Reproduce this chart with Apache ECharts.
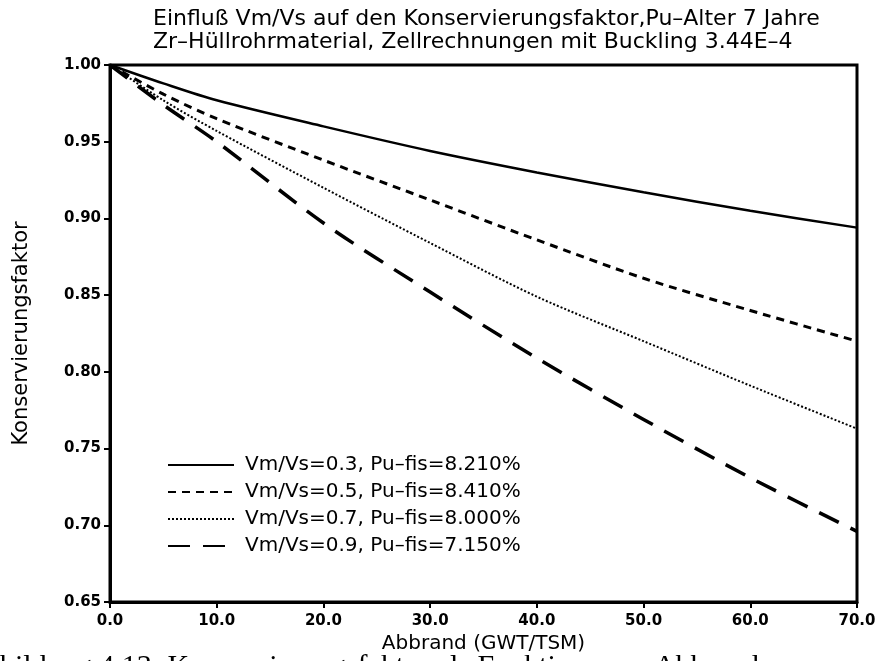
<!DOCTYPE html>
<html>
<head>
<meta charset="utf-8">
<script src="https://cdn.jsdelivr.net/npm/echarts@6/dist/echarts.min.js"></script>
<style>html,body{margin:0;padding:0;background:#fff;}#c{width:884px;height:661px;}</style>
</head>
<body>
<div id="c"></div>
<script>
const burnup = [0, 5, 10, 20, 30, 40, 50, 60, 70];
const vmvs03 = [1.000, 0.988, 0.977, 0.960, 0.944, 0.930, 0.917, 0.905, 0.894];
const vmvs05 = [1.000, 0.981, 0.965, 0.938, 0.912, 0.886, 0.861, 0.840, 0.820];
const vmvs07 = [1.000, 0.977, 0.957, 0.920, 0.884, 0.849, 0.820, 0.791, 0.763];
const vmvs09 = [1.000, 0.974, 0.950, 0.897, 0.852, 0.809, 0.769, 0.731, 0.696];
const seriesNames = [
  'Vm/Vs=0.3, Pu–fis=8.210%',
  'Vm/Vs=0.5, Pu–fis=8.410%',
  'Vm/Vs=0.7, Pu–fis=8.000%',
  'Vm/Vs=0.9, Pu–fis=7.150%'
];
const titleLines = [
  'Einfluß Vm/Vs auf den Konservierungsfaktor,Pu–Alter 7 Jahre',
  'Zr–Hüllrohrmaterial, Zellrechnungen mit Buckling 3.44E–4'
];
const xName = 'Abbrand (GWT/TSM)';
const yName = 'Konservierungsfaktor';
const caption = 'bildung 4.13: Konservierungsfaktor als Funktion vom Abbrand';

const allValues = [vmvs03, vmvs05, vmvs07, vmvs09];
const styles = [
  {width: 2.5, type: 'solid'},
  {width: 3, type: [8, 6]},
  {width: 2, type: [2, 2]},
  {width: 3.5, type: [22, 13]}
];
const font = '"DejaVu Sans", sans-serif';
const chart = echarts.init(document.getElementById('c'), null, {renderer: 'canvas'});
chart.setOption({
  backgroundColor: '#fff',
  animation: false,
  title: {
    text: titleLines.join('\n'),
    left: 148, top: 3,
    textStyle: {fontFamily: font, fontSize: 22, fontWeight: 'normal', color: '#000', lineHeight: 23}
  },
  grid: {left: 110, right: 27, top: 65, bottom: 59, outerBoundsMode: 'none', containLabel: false},
  legend: {
    orient: 'vertical', left: 162, top: 450,
    itemWidth: 66, itemHeight: 20, itemGap: 7,
    itemStyle: {opacity: 0},
    textStyle: {fontFamily: font, fontSize: 20, color: '#000', padding: [0, 0, 0, 6]},
    data: seriesNames
  },
  xAxis: {
    type: 'value', min: 0, max: 70, interval: 10,
    name: xName, nameLocation: 'middle', nameGap: 30,
    nameTextStyle: {fontFamily: font, fontSize: 20, color: '#000'},
    axisLine: {show: true, lineStyle: {color: '#000', width: 3}},
    axisTick: {show: true, inside: false, length: 6, lineStyle: {color: '#000', width: 2}},
    axisLabel: {fontFamily: font, fontSize: 15, fontWeight: 'bold', color: '#000', margin: 12,
      formatter: v => v.toFixed(1)},
    splitLine: {show: false}
  },
  yAxis: {
    type: 'value', min: 0.65, max: 1.0, interval: 0.05,
    name: yName, nameLocation: 'middle', nameGap: 78,
    nameTextStyle: {fontFamily: font, fontSize: 21, color: '#000'},
    axisLine: {show: true, lineStyle: {color: '#000', width: 3}},
    axisTick: {show: true, inside: false, length: 6, lineStyle: {color: '#000', width: 2}},
    axisLabel: {fontFamily: font, fontSize: 15, fontWeight: 'bold', color: '#000', margin: 9,
      formatter: v => v.toFixed(2)},
    splitLine: {show: false}
  },
  graphic: [
    {type: 'rect', shape: {x: 110, y: 65, width: 747, height: 537}, style: {fill: 'none', stroke: '#000', lineWidth: 3}, silent: true, z: 10},
    {type: 'text', left: 0, top: 652, style: {text: caption, font: '30px "Liberation Serif", serif', fill: '#000'}, silent: true}
  ],
  series: allValues.map((vals, i) => ({
    name: seriesNames[i],
    type: 'line',
    smooth: 0.3,
    showSymbol: false,
    symbol: 'none',
    data: burnup.map((x, j) => [x, vals[j]]),
    lineStyle: {color: '#000', width: styles[i].width, type: styles[i].type},
    itemStyle: {color: '#000'}
  }))
});
</script>
</body>
</html>
